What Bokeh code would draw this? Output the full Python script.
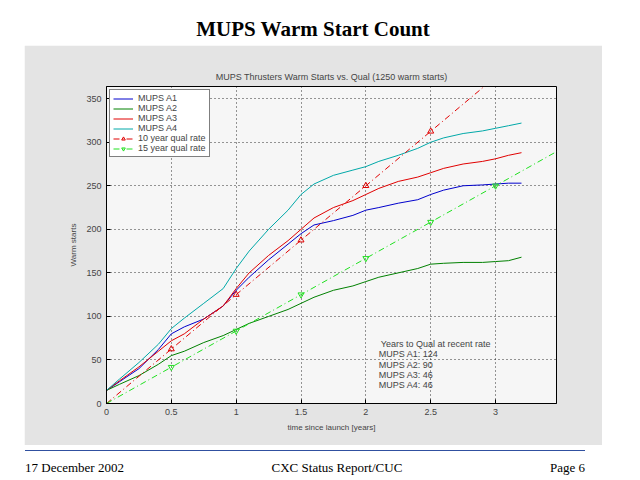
import numpy as np
from bokeh.plotting import figure
from bokeh.models import Div, Range1d, Legend, LegendItem, Label, FixedTicker
from bokeh.layouts import column
from bokeh.embed import file_html
from bokeh.resources import INLINE

t = [0, 0.1, 0.25, 0.4, 0.5, 0.6, 0.75, 0.9, 1.0, 1.1, 1.25, 1.4, 1.5, 1.6, 1.75, 1.9, 2.0, 2.1, 2.25, 2.4, 2.5, 2.6, 2.75, 2.9, 3.0, 3.1, 3.2]
a1 = [15, 25, 40, 62, 80, 88, 97, 112, 130, 145, 165, 183, 195, 205, 210, 216, 222, 225, 230, 234, 240, 245, 250, 251, 252, 253, 253]
a2 = [15, 22, 32, 45, 55, 60, 70, 78, 85, 92, 100, 108, 115, 122, 130, 135, 140, 145, 150, 155, 160, 161, 162, 162, 163, 164, 168]
a3 = [15, 26, 42, 60, 72, 80, 97, 112, 132, 150, 170, 187, 200, 213, 225, 233, 240, 247, 255, 260, 265, 270, 275, 278, 281, 285, 288]
a4 = [15, 28, 47, 68, 86, 98, 115, 132, 155, 175, 200, 222, 240, 252, 262, 268, 272, 278, 285, 293, 300, 305, 310, 313, 316, 319, 322]
q_t = [0, 0.5, 1.0, 1.5, 2.0, 2.5, 3.0, 3.5]
q10 = [0, 62.5, 125, 187.5, 250, 312.5, 375, 437.5]
q15 = [0, 41.7, 83.3, 125, 166.7, 208.3, 250, 291.7]
years_txt = ["Years to Qual at recent rate", "MUPS A1:   124", "MUPS A2:   90", "MUPS A3:   46", "MUPS A4:   46"]

p = figure(width=578, height=400, output_backend="svg", toolbar_location=None,
           x_range=Range1d(0, 3.47), y_range=Range1d(0, 364),
           min_border_left=82, min_border_right=46, min_border_top=41, min_border_bottom=42,
           background_fill_color="#f6f6f6", border_fill_color="#e4e4e4",
           title="MUPS Thrusters Warm Starts vs. Qual (1250 warm starts)")
p.title.align = "center"; p.title.text_font = "Liberation Sans"; p.title.text_font_size = "9px"; p.title.text_font_style = "normal"
p.outline_line_color = "black"
for ax in (p.xaxis[0], p.yaxis[0]):
    ax.major_label_text_font_size = "9px"; ax.axis_label_text_font_size = "8px"
    ax.axis_label_text_font_style = "normal"; ax.minor_tick_line_color = None
    ax.major_tick_in = 4; ax.major_tick_out = 0
p.xaxis.axis_label = "time since launch [years]"
p.yaxis.axis_label = "Warm starts"
p.xaxis.ticker = FixedTicker(ticks=[0, 0.5, 1, 1.5, 2, 2.5, 3])
p.yaxis.ticker = FixedTicker(ticks=[0, 50, 100, 150, 200, 250, 300, 350])
p.grid.grid_line_color = "black"; p.grid.grid_line_dash = "1 3"; p.grid.grid_line_alpha = 0.8

r1 = p.line(t, a1, color="#0000cc", line_width=1)
r2 = p.line(t, a2, color="#008000", line_width=1)
r3 = p.line(t, a3, color="#e00000", line_width=1)
r4 = p.line(t, a4, color="#00a8a8", line_width=1)
r5 = p.line(q_t, q10, color="#e00000", line_dash="6 3 1 3")
r5m = p.scatter(q_t[1:], q10[1:], marker="triangle", size=6, fill_color=None, line_color="#e00000")
r6 = p.line(q_t, q15, color="#20e020", line_dash="6 3 1 3")
r6m = p.scatter(q_t[1:], q15[1:], marker="inverted_triangle", size=6, fill_color=None, line_color="#20e020")

leg = Legend(items=[LegendItem(label="MUPS A1", renderers=[r1]), LegendItem(label="MUPS A2", renderers=[r2]),
                    LegendItem(label="MUPS A3", renderers=[r3]), LegendItem(label="MUPS A4", renderers=[r4]),
                    LegendItem(label="10 year qual rate", renderers=[r5, r5m]),
                    LegendItem(label="15 year qual rate", renderers=[r6, r6m])],
             location="top_left", border_line_color="black", background_fill_color="white", background_fill_alpha=1,
             label_text_font_size="9px", label_height=9, glyph_height=9, spacing=0, padding=3, margin=3,
             label_text_line_height=1.0)
p.add_layout(leg)
for i, s in enumerate(years_txt):
    p.add_layout(Label(x=2.1, y=63 - i * 12, text=s, text_font_size="9px", x_offset=2 if i == 0 else 0))

title = Div(text="<div style='font-family:Liberation Serif;font-weight:bold;font-size:21px;text-align:center;width:578px;padding-top:14px'>MUPS Warm Start Count</div>",
            width=578, height=45, margin=(0, 0, 0, 24))
foot = Div(text="<div style='width:560px;border-top:1px solid #3050a0;margin-left:15px;'></div>"
           "<div style='display:flex;justify-content:space-between;width:560px;margin-left:15px;font-family:Liberation Serif;font-size:13px;padding-top:8px'>"
           "<span>17 December 2002</span><span>CXC Status Report/CUC</span><span>Page 6</span></div>",
           width=600, height=30, margin=(5, 0, 0, 10))
lay = column(title, p, foot, spacing=0)
p.margin = (0, 0, 0, 24)
open("out.html", "w").write(file_html(lay, INLINE))
